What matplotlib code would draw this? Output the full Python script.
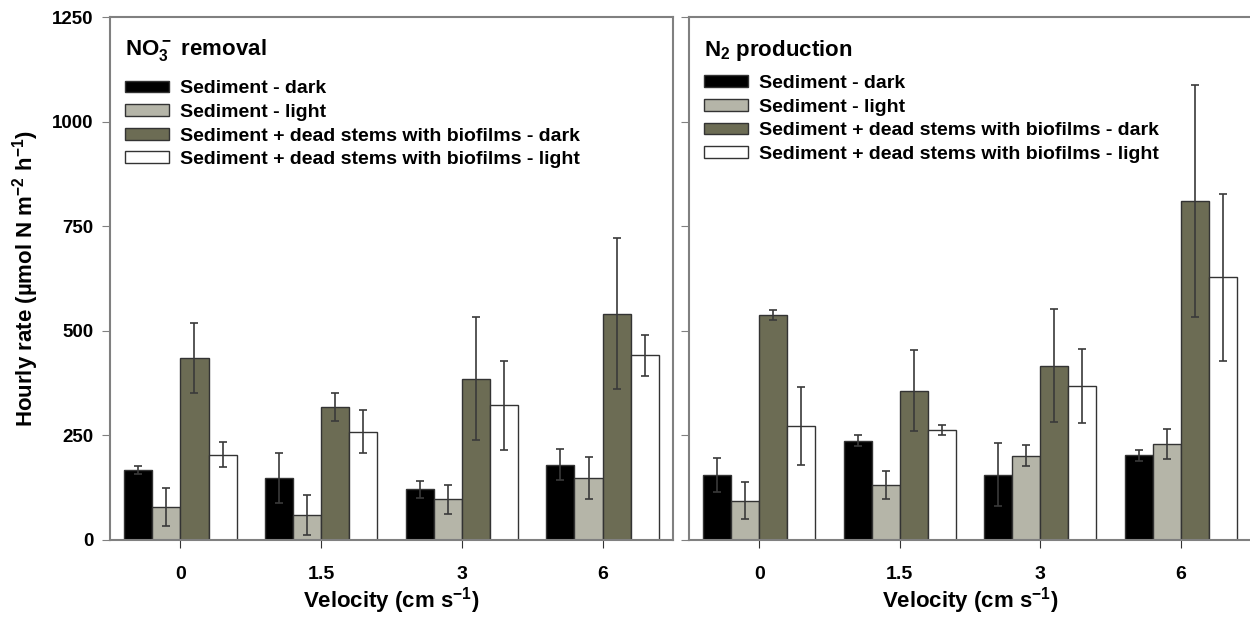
import matplotlib
matplotlib.use('Agg')
import numpy as np
import matplotlib.pyplot as plt

plt.rcParams['font.family'] = ['Liberation Sans', 'DejaVu Sans']
plt.rcParams['font.weight'] = 'bold'
plt.rcParams['mathtext.fontset'] = 'custom'
plt.rcParams['mathtext.rm'] = 'Liberation Sans:bold'
plt.rcParams['mathtext.bf'] = 'Liberation Sans:bold'
plt.rcParams['mathtext.default'] = 'bf'

velocity = ['0', '1.5', '3', '6']
labels = ['Sediment - dark', 'Sediment - light',
          'Sediment + dead stems with biofilms - dark',
          'Sediment + dead stems with biofilms - light']

# NO3- removal
no3_sed_dark = [168, 148, 121, 180]
no3_sed_dark_err = [10, 60, 20, 37]
no3_sed_light = [79, 59, 97, 149]
no3_sed_light_err = [46, 48, 34, 50]
no3_stem_dark = [435, 318, 386, 541]
no3_stem_dark_err = [84, 34, 148, 180]
no3_stem_light = [204, 259, 322, 441]
no3_stem_light_err = [30, 51, 107, 48]

# N2 production
n2_sed_dark = [156, 237, 156, 202]
n2_sed_dark_err = [41, 13, 75, 14]
n2_sed_light = [94, 132, 201, 230]
n2_sed_light_err = [45, 33, 25, 36]
n2_stem_dark = [538, 357, 417, 810]
n2_stem_dark_err = [12, 96, 135, 278]
n2_stem_light = [273, 264, 368, 628]
n2_stem_light_err = [93, 12, 88, 200]

colors = ['#000000', '#b5b5a8', '#6c6c54', '#ffffff']
spine_col = '#808080'


def panel(ax, series, errs, title, legend_y):
    x = np.arange(len(velocity))
    w = 0.2
    handles = []
    for i, (vals, err) in enumerate(zip(series, errs)):
        pos = x + (i - 1.5) * w
        b = ax.bar(pos, vals, w, color=colors[i], edgecolor='#333333',
                   linewidth=1.0, zorder=2)
        ax.errorbar(pos, vals, yerr=err, fmt='none', ecolor='#3a3a3a',
                    elinewidth=1.2, capsize=3, capthick=1.2, zorder=3)
        handles.append(b)
    ax.set_xlim(-0.5, 3.5)
    ax.set_ylim(0, 1250)
    ax.set_yticks([0, 250, 500, 750, 1000, 1250])
    ax.set_xticks(x)
    ax.set_xticklabels(velocity, fontsize=14, fontweight='bold')
    ax.tick_params(axis='x', direction='out', length=6, pad=13, color='#333333')
    ax.tick_params(axis='y', direction='out', length=6, pad=6, color=spine_col)
    for s in ax.spines.values():
        s.set_color(spine_col)
        s.set_linewidth(1.5)
    ax.set_xlabel('Velocity (cm s$^{-1}$)', fontsize=16, fontweight='bold',
                  labelpad=1)
    ax.text(0.027, 0.936, title, transform=ax.transAxes, fontsize=16,
            fontweight='bold', va='center', ha='left')
    ax.legend(handles, labels, loc='upper left',
              bbox_to_anchor=(0.026, legend_y), frameon=False,
              prop={'size': 14, 'weight': 'bold'}, handlelength=2.3,
              handleheight=0.55, handletextpad=0.55, labelspacing=0.34,
              borderaxespad=0, borderpad=0)


fig = plt.figure(figsize=(12.5, 6.17), dpi=100)
ax1 = fig.add_axes([0.088, 0.1248, 0.4504, 0.8476])
ax2 = fig.add_axes([0.5512, 0.1248, 0.4496, 0.8476])

panel(ax1, [no3_sed_dark, no3_sed_light, no3_stem_dark, no3_stem_light],
      [no3_sed_dark_err, no3_sed_light_err, no3_stem_dark_err, no3_stem_light_err],
      'NO$_3^-$ removal', 0.879)
panel(ax2, [n2_sed_dark, n2_sed_light, n2_stem_dark, n2_stem_light],
      [n2_sed_dark_err, n2_sed_light_err, n2_stem_dark_err, n2_stem_light_err],
      'N$_2$ production', 0.889)

ax1.set_yticklabels(['0', '250', '500', '750', '1000', '1250'],
                    fontsize=13.5, fontweight='bold')
ax1.set_ylabel('Hourly rate (\u00b5mol N m$^{-2}$ h$^{-1}$)', fontsize=16,
               fontweight='bold', labelpad=8)
ax2.set_yticklabels([])
ax2.spines['right'].set_visible(False)

fig.savefig('out.png', dpi=100)
